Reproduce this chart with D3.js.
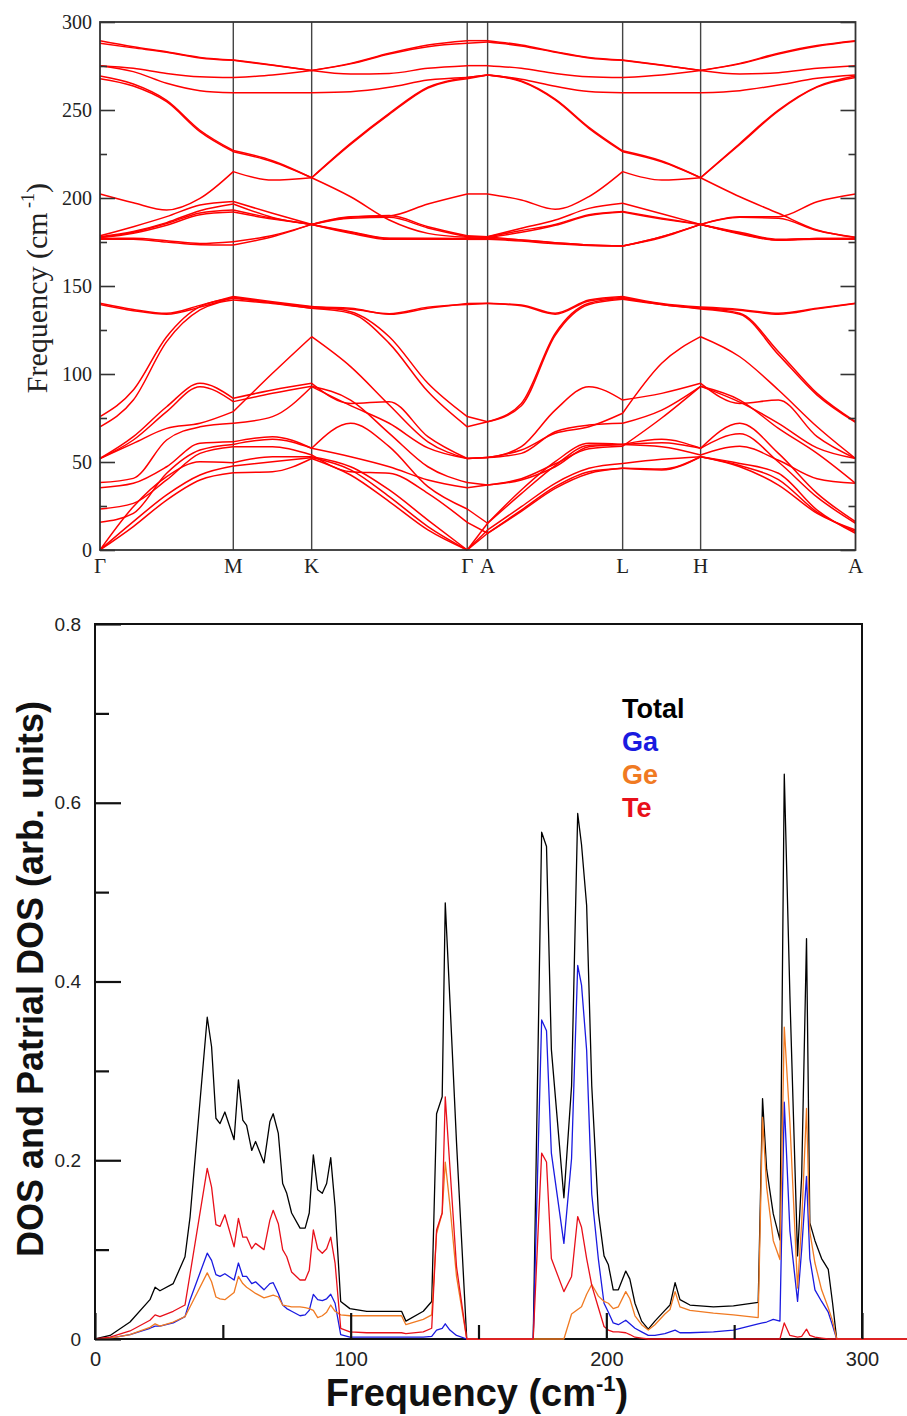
<!DOCTYPE html>
<html>
<meta charset="utf-8">
<style>
  body { margin: 0; background: #fff; }
  .band { fill: none; stroke: #f00; stroke-width: 1.5; }
  .sym { stroke: #444; stroke-width: 1.4; }
  .serif text { font-family: "Liberation Serif", "Times New Roman", serif; }
  .sans text { font-family: "Liberation Sans", Arial, sans-serif; }
  .dos { fill: none; stroke-width: 1.3; stroke-linejoin: round; }
</style>
<body>
<script src="https://d3js.org/d3.v7.min.js"></script>
<script>
// ---------- phonon band structure ----------
// path coordinate of each sample point (G M K G A L H A)
const kPos = [0, 0.25, 0.5, 0.75, 1, 1.294, 1.588, 1.88, 2.17, 2.46, 2.755,
  2.908, 3.161, 3.415, 3.668, 3.921, 4.214, 4.506, 4.8, 5.09, 5.38, 5.668];
const kLabels = ["Γ", "M", "K", "Γ", "A", "L", "H", "A"];
const kLabelPos = [0, 1, 1.588, 2.755, 2.908, 3.921, 4.506, 5.668];
const segments = [[0, 4], [4, 6], [6, 10], [10, 11], [11, 15], [15, 17], [17, 21]];

const lowBands = [
  [0, 13.3, 28.4, 39.8, 43.9, 44.5, 52, 42.6, 27.5, 11.4, 0, 9.5, 22.7, 36, 44.5, 46.4, 45.5, 53, 47.3, 36.9, 20.8, 11.4],
  [0, 16.1, 31.3, 42.6, 47.7, 50.2, 52.5, 45.5, 30.3, 13.3, 0, 11.4, 24.6, 37.9, 46.4, 49.2, 51.5, 53, 48, 40, 21.5, 10.5],
  [0, 24.6, 41.7, 50.2, 49.6, 53, 53, 47.3, 34.1, 17, 0, 15.2, 34.1, 50.2, 60.6, 60, 62.9, 57.8, 72, 54.9, 32.2, 16.1],
  [15.7, 20.8, 43.6, 56.8, 60, 62.9, 57.8, 53, 47.3, 39.8, 35.4, 36.9, 39.8, 47.3, 58.7, 60, 58.7, 54, 59, 51, 40.5, 37.9],
  [23.3, 26.5, 39.8, 54.9, 58.7, 58.7, 54, 44.5, 43.6, 32.2, 15.7, 9.5, 22, 35, 43.5, 46.4, 46, 53, 49.2, 43.6, 22.7, 9.5],
  [35.4, 37.9, 47.3, 60.6, 61.5, 64.4, 57.8, 72, 58.7, 36, 23.3, 15.2, 32, 48, 59.5, 60, 61, 57.8, 66, 50, 30, 15.2],
  [38.3, 40.7, 62.5, 70, 72, 75.8, 92.8, 82, 72, 58, 52, 52.5, 54.9, 67.2, 71, 72, 79.5, 93, 85.2, 69.1, 54.9, 37.9],
  [52, 60.6, 69.1, 72, 78.6, 100.4, 121.2, 104.2, 82.4, 61.5, 52, 52.5, 56.8, 66.3, 70, 77.7, 106.1, 121.2, 109.8, 90.9, 70, 52],
  [52, 64.4, 81.4, 94.7, 86.2, 90.9, 94.7, 83.3, 84.3, 64.4, 52, 52.5, 58.7, 79.5, 92.8, 85.2, 89, 94.7, 83.3, 85.2, 64.4, 52],
  [52, 62.5, 78.6, 92.8, 84.3, 89, 93, 85.2, 66.3, 47.3, 38.3, 36.9, 40.5, 49, 57.5, 59, 75, 93, 84, 72, 58, 52]
];
const midBands = [
  [140.2, 136.7, 134.5, 139, 144, 141, 138.3, 135.4, 121.2, 94.7, 75.8, 72.9, 83.3, 123.1, 140.2, 143, 139.7, 137.3, 134.5, 112.7, 89, 72.9],
  [139.5, 136, 134, 138, 143.5, 140.5, 137.3, 134.5, 117.4, 90, 70, 72.9, 82, 122, 139.5, 142.5, 139.5, 137, 134, 111, 88, 72.5],
  [75.8, 90.9, 121.2, 138.3, 143, 140.5, 138, 137.3, 133.9, 137.3, 140, 140.2, 139.2, 134.5, 142, 144, 140, 138, 136.7, 134.5, 137.3, 140.2],
  [70, 85.2, 118.4, 136.4, 142, 140, 137.3, 136.8, 134.3, 138, 139.5, 140, 138.8, 134, 141.5, 143.5, 139.5, 137.5, 136.2, 134, 137, 140]
];
const highBands = [
  [289.4, 286, 283.1, 279.9, 278.4, 275.6, 272.5, 276.5, 282.2, 286.9, 289.4, 289.4, 286.9, 283.1, 279.9, 278.4, 275.6, 272.5, 276.5, 282.2, 286.6, 289.4],
  [287.9, 285.3, 282.8, 279.6, 278.2, 275.4, 272.5, 276.2, 281.8, 286, 287.9, 288.6, 286.4, 282.8, 279.6, 278.2, 275.4, 272.5, 276.2, 281.8, 286.2, 289],
  [275.2, 273.7, 270.8, 268.9, 268.4, 269.9, 272.5, 270.5, 270.8, 273.7, 275.2, 275.2, 273.7, 270.8, 268.9, 268.4, 269.9, 272.5, 270.5, 271.2, 273.7, 275.2],
  [275.2, 271.8, 265.2, 261, 259.8, 259.8, 259.8, 260.4, 262.9, 267, 268.5, 269.9, 267.5, 263.5, 260.5, 259.8, 259.8, 259.8, 261, 264.2, 268, 269.9],
  [267.8, 263.6, 254.7, 237.7, 226.3, 220.6, 211.5, 231, 248.1, 262.9, 268.5, 269.9, 266.1, 255.7, 239.6, 226.3, 220.6, 211.5, 231, 250, 263.3, 269.3],
  [269.3, 264.8, 255.5, 238.5, 227, 221.2, 211.5, 230.5, 247.5, 262.5, 267.8, 269.9, 266.5, 256.2, 240.2, 226.8, 221, 211.5, 230.5, 249.5, 263, 268.5],
  [202.3, 197.3, 193.2, 199.8, 215, 210.2, 211.5, 200.7, 187.5, 179.9, 177.7, 178, 176.1, 174.6, 173.3, 172.7, 178, 185, 180, 176.1, 177, 177],
  [178.5, 183.7, 189.4, 196, 198, 191.3, 185, 189.4, 189.8, 196.6, 202.3, 202.3, 198.9, 193.6, 200.8, 215, 210.2, 211.5, 200.7, 191.3, 181.8, 177.7],
  [178, 181, 186, 192.8, 196.6, 189, 185, 189, 190, 183.7, 178.5, 178, 182.8, 187.5, 194.1, 197, 191, 185, 189.4, 189.4, 197.9, 202.3],
  [177.5, 180.5, 185.5, 191.5, 193.2, 188.5, 185, 188.5, 189, 183, 178, 178, 181.5, 185, 190.5, 192.4, 188.5, 185, 189, 188.5, 181.5, 177.5],
  [177.5, 180, 184.5, 190.5, 192, 188, 185, 180.9, 177.1, 177.1, 177, 177.5, 180.5, 184.5, 190, 192, 188, 185, 180, 176.1, 177, 177],
  [177, 177.1, 175.7, 174.2, 175.2, 178.7, 185, 180.5, 177, 176.8, 176.8, 177, 176.1, 174.6, 173.3, 172.7, 178, 185, 180.5, 176.5, 176.8, 176.8],
  [176.5, 176.5, 175, 173.5, 173.3, 178, 185, 180, 176.5, 176.5, 176.5, 176.5, 175.5, 174, 173, 172.7, 177.5, 185, 179.5, 176, 176.5, 176.5]
];
const bandTicks = [0, 50, 100, 150, 200, 250, 300];
const bandMinor = [25, 75, 125, 175, 225, 275];

// ---------- phonon DOS ----------
const dosFreq = [0, 5.9, 13.7, 21.5, 23.5, 25.4, 30.6, 35.2, 37.2, 43.9,
  45.6, 47.3, 48.9, 50.8, 54.4, 56.1, 57.8, 59.3, 61.3, 62.8,
  66.1, 68.4, 69.7, 71.7, 73.4, 75.0, 76.9, 80.2, 82.2, 83.8,
  85.4, 87.1, 88.9, 90.6, 92.2, 93.9, 96.1, 99.7, 106.3, 119.9,
  121.6, 128.4, 131.7, 133.6, 135.8, 137.0, 138.8, 141.4, 145.4, 171.4,
  174.7, 176.6, 178.5, 183.4, 186.4, 188.8, 190.3, 192.3, 194.3, 196.9,
  199.1, 200.8, 202.7, 204.7, 207.6, 209.2, 211.2, 213.8, 216.4, 219.0,
  222.9, 224.9, 226.9, 228.8, 232.7, 241.9, 249.7, 259.4, 261.1, 262.7,
  265.3, 267.9, 269.6, 271.8, 274.8, 276.4, 278.3, 279.6, 281.6, 284.2,
  286.8, 288.5, 290.1, 320];
const dosTotal = [0, 0.004, 0.019, 0.044, 0.058, 0.054, 0.062, 0.092, 0.137, 0.360,
  0.327, 0.247, 0.241, 0.254, 0.223, 0.290, 0.245, 0.239, 0.211, 0.221,
  0.197, 0.243, 0.252, 0.230, 0.174, 0.163, 0.141, 0.124, 0.124, 0.141,
  0.206, 0.167, 0.163, 0.174, 0.203, 0.148, 0.042, 0.034, 0.031, 0.031,
  0.020, 0.031, 0.042, 0.252, 0.271, 0.488, 0.380, 0.220, 0, 0,
  0.567, 0.551, 0.324, 0.158, 0.283, 0.588, 0.553, 0.485, 0.283, 0.141,
  0.093, 0.083, 0.055, 0.055, 0.076, 0.067, 0.040, 0.020, 0.011, 0.020,
  0.032, 0.038, 0.063, 0.044, 0.038, 0.036, 0.037, 0.041, 0.269, 0.190,
  0.140, 0.111, 0.632, 0.384, 0.093, 0.182, 0.448, 0.130, 0.110, 0.090,
  0.078, 0.040, 0, 0];
const dosGa = [0, 0.001, 0.005, 0.012, 0.0145, 0.0145, 0.018, 0.025, 0.044, 0.096,
  0.088, 0.072, 0.070, 0.073, 0.066, 0.085, 0.070, 0.070, 0.062, 0.064,
  0.055, 0.062, 0.063, 0.051, 0.038, 0.034, 0.031, 0.026, 0.027, 0.032,
  0.050, 0.044, 0.043, 0.045, 0.050, 0.040, 0.005, 0.002, 0.002, 0.002,
  0.002, 0.002, 0.003, 0.010, 0.012, 0.017, 0.010, 0.004, 0, 0,
  0.357, 0.345, 0.208, 0.107, 0.202, 0.418, 0.396, 0.323, 0.162, 0.089,
  0.040, 0.030, 0.018, 0.016, 0.021, 0.017, 0.012, 0.008, 0.004, 0.004,
  0.006, 0.008, 0.010, 0.007, 0.007, 0.008, 0.010, 0.017, 0.018, 0.019,
  0.022, 0.020, 0.265, 0.121, 0.042, 0.100, 0.182, 0.090, 0.055, 0.042,
  0.030, 0.015, 0, 0];
const dosGe = [0, 0.001, 0.005, 0.013, 0.017, 0.0145, 0.019, 0.025, 0.036, 0.074,
  0.064, 0.047, 0.045, 0.044, 0.052, 0.070, 0.062, 0.058, 0.054, 0.051,
  0.046, 0.048, 0.049, 0.047, 0.038, 0.037, 0.036, 0.036, 0.035, 0.034,
  0.032, 0.024, 0.026, 0.030, 0.038, 0.031, 0.027, 0.026, 0.026, 0.026,
  0.016, 0.022, 0.027, 0.118, 0.141, 0.198, 0.150, 0.070, 0, 0,
  0, 0, 0, 0, 0.028, 0.033, 0.036, 0.050, 0.061, 0.048,
  0.042, 0.040, 0.034, 0.036, 0.053, 0.045, 0.026, 0.016, 0.010, 0.016,
  0.028, 0.033, 0.053, 0.036, 0.032, 0.029, 0.027, 0.024, 0.248, 0.170,
  0.110, 0.089, 0.349, 0.242, 0.057, 0.130, 0.258, 0.120, 0.085, 0.055,
  0.035, 0.020, 0, 0];
const dosTe = [0, 0.002, 0.009, 0.021, 0.027, 0.025, 0.031, 0.038, 0.073, 0.191,
  0.170, 0.128, 0.126, 0.139, 0.103, 0.135, 0.114, 0.114, 0.101, 0.107,
  0.100, 0.133, 0.144, 0.129, 0.100, 0.092, 0.075, 0.066, 0.066, 0.077,
  0.122, 0.101, 0.096, 0.101, 0.114, 0.085, 0.012, 0.008, 0.007, 0.007,
  0.006, 0.008, 0.012, 0.122, 0.141, 0.271, 0.193, 0.081, 0, 0,
  0.208, 0.198, 0.090, 0.053, 0.070, 0.137, 0.125, 0.090, 0.060, 0.035,
  0.014, 0.010, 0.008, 0.008, 0.007, 0.005, 0.002, 0.001, 0, 0,
  0, 0, 0, 0, 0, 0, 0, 0, 0, 0,
  0, 0, 0.018, 0.004, 0.002, 0.003, 0.011, 0.004, 0.002, 0.001,
  0, 0, 0, 0];
const dosSeries = ["Total", "Ga", "Ge", "Te"];
const dosColors = ["#000000", "#1a1ae0", "#f07a22", "#e8101a"];
const dosXTicks = [0, 100, 200, 300];
const dosXMinor = [50, 150, 250];
const dosYTicks = [0, 0.2, 0.4, 0.6, 0.8];
const dosYMinor = [0.1, 0.3, 0.5, 0.7];

let svg = d3.select("body").append("svg")
  .attr("width", 907)
  .attr("height", 1416);

// ===== top panel =====
let bx = d3.scaleLinear().domain([0, 5.668]).range([100, 855.5]);
let by = d3.scaleLinear().domain([0, 300]).range([550, 22]);

let topG = svg.append("g").attr("class", "serif");

// symmetry lines
topG.selectAll(".sym")
  .data(kLabelPos.slice(1, -1))
  .join("line")
  .attr("class", "sym")
  .attr("x1", d => bx(d)).attr("x2", d => bx(d))
  .attr("y1", by(300)).attr("y2", by(0));

let bandLine = d3.line()
  .x(d => bx(d[0]))
  .y(d => by(d[1]))
  .curve(d3.curveMonotoneX);

let allBands = lowBands.concat(midBands, highBands);
allBands.forEach(b => {
  segments.forEach(([s, e]) => {
    let pts = d3.range(s, e + 1).map(i => [kPos[i], b[i]]);
    topG.append("path").attr("class", "band").attr("d", bandLine(pts));
  });
});

// frame
topG.append("rect")
  .attr("x", bx(0)).attr("y", by(300))
  .attr("width", bx(5.668) - bx(0)).attr("height", by(0) - by(300))
  .attr("fill", "none").attr("stroke", "#333").attr("stroke-width", 1.8);

function styleAxis(g, size, color) {
  g.select(".domain").remove();
  g.selectAll(".tick line").attr("stroke", color).attr("stroke-width", 1.6);
  g.selectAll(".tick text").attr("font-size", size).attr("fill", "#222");
}

topG.append("g").attr("transform", `translate(${bx(0)},0)`)
  .call(d3.axisLeft(by).tickValues(bandTicks).tickSize(-15).tickPadding(8))
  .call(g => styleAxis(g, 20, "#333"));
topG.append("g").attr("transform", `translate(${bx(0)},0)`)
  .call(d3.axisLeft(by).tickValues(bandMinor).tickSize(-7).tickFormat(""))
  .call(g => styleAxis(g, 20, "#333"));
topG.append("g").attr("transform", `translate(${bx(5.668)},0)`)
  .call(d3.axisRight(by).tickValues(bandTicks).tickSize(-15).tickFormat(""))
  .call(g => styleAxis(g, 20, "#333"));
topG.append("g").attr("transform", `translate(${bx(5.668)},0)`)
  .call(d3.axisRight(by).tickValues(bandMinor).tickSize(-7).tickFormat(""))
  .call(g => styleAxis(g, 20, "#333"));

topG.selectAll(".klab")
  .data(kLabelPos)
  .join("text")
  .attr("class", "klab")
  .attr("x", d => bx(d))
  .attr("y", 573)
  .attr("text-anchor", "middle")
  .attr("font-size", 21)
  .attr("fill", "#222")
  .text((d, i) => kLabels[i]);

let ty = topG.append("text")
  .attr("transform", "translate(47,288) rotate(-90)")
  .attr("text-anchor", "middle")
  .attr("font-size", 30)
  .attr("fill", "#222");
ty.append("tspan").text("Frequency (cm");
ty.append("tspan").attr("font-size", 18).attr("dy", -13).text(" -1");
ty.append("tspan").attr("dy", 13).text(")");

// ===== bottom panel =====
let dx = d3.scaleLinear().domain([0, 300]).range([95, 862]);
let dy = d3.scaleLinear().domain([0, 0.8]).range([1339, 624]);

let botG = svg.append("g").attr("class", "sans");

botG.append("rect")
  .attr("x", dx(0)).attr("y", dy(0.8))
  .attr("width", dx(300) - dx(0)).attr("height", dy(0) - dy(0.8))
  .attr("fill", "none").attr("stroke", "#111").attr("stroke-width", 2);

[dosTotal, dosGa, dosGe, dosTe].forEach((vals, j) => {
  let line = d3.line()
    .x((d, i) => dx(dosFreq[i]))
    .y(d => dy(d));
  botG.append("path")
    .attr("class", "dos")
    .attr("stroke", dosColors[j])
    .attr("d", line(vals));
});

botG.append("g").attr("transform", `translate(0,${dy(0)})`)
  .call(d3.axisBottom(dx).tickValues(dosXTicks).tickSize(-26).tickPadding(13))
  .call(g => styleAxis(g, 20, "#111"));
botG.append("g").attr("transform", `translate(0,${dy(0)})`)
  .call(d3.axisBottom(dx).tickValues(dosXMinor).tickSize(-14).tickFormat(""))
  .call(g => styleAxis(g, 20, "#111"));
botG.append("g").attr("transform", `translate(${dx(0)},0)`)
  .call(d3.axisLeft(dy).tickValues(dosYTicks).tickSize(-26).tickPadding(14)
    .tickFormat(d => d === 0 ? "0" : d.toFixed(1)))
  .call(g => styleAxis(g, 19, "#111"));
botG.append("g").attr("transform", `translate(${dx(0)},0)`)
  .call(d3.axisLeft(dy).tickValues(dosYMinor).tickSize(-14).tickFormat(""))
  .call(g => styleAxis(g, 19, "#111"));
botG.selectAll(".tick line").attr("stroke-width", 2.2);

// legend
botG.selectAll(".leg")
  .data(dosSeries)
  .join("text")
  .attr("class", "leg")
  .attr("x", 622)
  .attr("y", (d, i) => 718 + i * 33)
  .attr("font-size", 27)
  .attr("font-weight", "bold")
  .attr("fill", (d, i) => dosColors[i])
  .text(d => d);

let xt = botG.append("text")
  .attr("x", 477).attr("y", 1406)
  .attr("text-anchor", "middle")
  .attr("font-size", 38)
  .attr("font-weight", "bold")
  .attr("fill", "#111");
xt.append("tspan").text("Frequency (cm");
xt.append("tspan").attr("font-size", 22).attr("dy", -15).text("-1");
xt.append("tspan").attr("dy", 15).text(")");

botG.append("text")
  .attr("transform", "translate(43,979) rotate(-90)")
  .attr("text-anchor", "middle")
  .attr("font-size", 36)
  .attr("font-weight", "bold")
  .attr("fill", "#111")
  .text("DOS and Patrial DOS (arb. units)");
</script>
</body>
</html>
